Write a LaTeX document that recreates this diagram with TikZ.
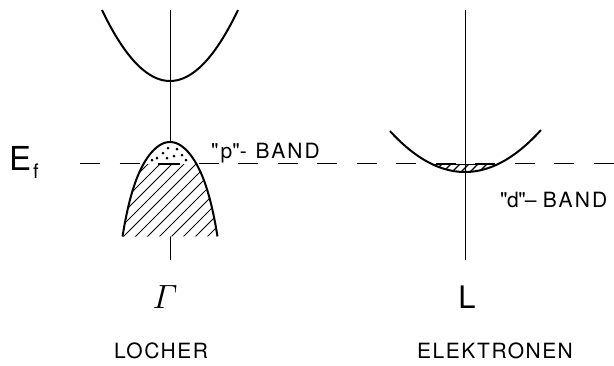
\documentclass[tikz,border=0pt]{standalone}
\usepackage{amsmath}
\usepackage{fontspec}
\newfontfamily\hs[LetterSpace=10]{TeX Gyre Heros}
\newfontfamily\hl[LetterSpace=7]{TeX Gyre Heros}
\newfontfamily\hn{TeX Gyre Heros}
\begin{document}
\begin{tikzpicture}[x=1pt,y=-1pt,
  band/.style={line width=2pt},
  axisline/.style={line width=1pt},
  efline/.style={line width=1pt, dash pattern=on 20pt off 19.5pt},
  hatchline/.style={line width=0.9pt},
  lbl/.style={inner sep=0pt}]
\useasboundingbox (0,0) rectangle (614,365);
% axes and Fermi level
\coordinate (gtop) at (170,10); \coordinate (gbot) at (170,260);
\coordinate (ltop) at (465,10); \coordinate (lbot) at (465,260);
\coordinate (efs) at (80,163); \coordinate (efe) at (614,163);
\draw[axisline] (gtop) -- (gbot);
\draw[axisline] (ltop) -- (lbot);
\draw[efline] (efs) -- (efe);
% conduction band at Gamma
\draw[band] plot[domain=-6.8:6.8, samples=41, smooth] ({170+10*\x},{81-1.535*\x*\x});
% valence band at Gamma
\def\vb{plot[domain=-2.375:2.375, samples=51, smooth] ({170+20*\x},{142+12.08*\x*\x+0.147*\x*\x*\x*\x*\x*\x})}
\fill[white] \vb -- cycle;
\begin{scope}
  \clip \vb -- cycle;
  \clip (100,164) rectangle (240,250);
  \foreach \c in {40,52,...,300} \draw[hatchline] (\c-80,280) -- (\c+120,80);
\end{scope}
\draw[line width=1.3pt] (158,164) -- (180,164);
\foreach \p in {(168,148),(163,153),(177,149),(182,155),(157,158),(174,156),(167,158),(186,160),(152,160)}
  \fill \p circle (1.5pt);
\draw[band] \vb;
% band at L
\def\rb{plot[domain=-7.5:7.6, samples=51, smooth] ({465+10*\x},{172-0.727*\x*\x})}
\begin{scope}
  \clip \rb -- cycle;
  \clip (420,164.5) rectangle (510,185);
  \foreach \c in {400,409,...,540} \draw[line width=1.2pt] (\c-20,190) -- (\c+20,150);
\end{scope}
\draw[line width=1.4pt] (435,164.5) -- (496,164.5);
\draw[band] \rb;
% labels
\node[lbl, anchor=base west] (ef) at (9,170) {\hn\fontsize{33}{33}\selectfont E\kern2pt\raisebox{-8pt}{\fontsize{20}{20}\selectfont f}};
\node[lbl, anchor=base west] (pband) at (211,158) {\hn\fontsize{21}{21}\selectfont "\kern2pt p"-\kern8.8pt{\hs BAND}};
\node[lbl, anchor=base west] (dband) at (500,207) {\hn\fontsize{21}{21}\selectfont "\kern-0.5pt d\kern-0.5pt"\kern-1pt\char"2013\kern6.5pt{\hs BAND}};
\node[lbl, anchor=base, scale=1.35] (gam) at (165,308) {\fontsize{24.88}{25}\selectfont $\varGamma$};
\node[lbl, anchor=base] (lpt) at (467,308) {\hn\fontsize{31}{31}\selectfont L};
\node[lbl, anchor=base west] (loc) at (114,358) {\hl\fontsize{21}{21}\selectfont LOCHER};
\node[lbl, anchor=base west] (ele) at (417,358) {\hl\fontsize{21}{21}\selectfont ELEKTRONEN};
\end{tikzpicture}
\end{document}
